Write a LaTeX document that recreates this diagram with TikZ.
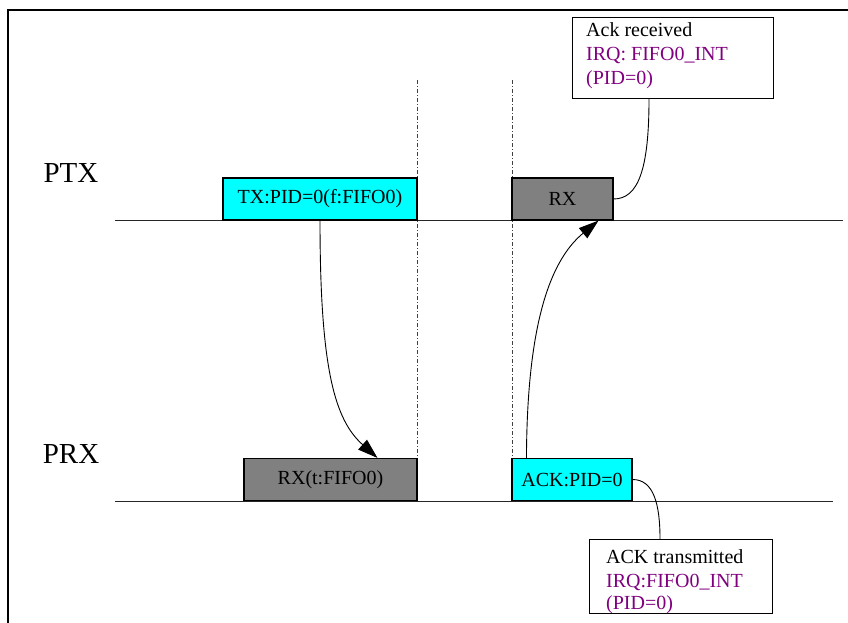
\documentclass[tikz,border=0pt]{standalone}
\usepackage{fontspec}
\setmainfont{Liberation Serif}
\usetikzlibrary{arrows.meta,calc}
\definecolor{boxcyan}{HTML}{00FFFF}
\definecolor{boxgray}{HTML}{808080}
\definecolor{irqpurple}{HTML}{800080}
\begin{document}
\begin{tikzpicture}[x=1pt,y=-1pt,
  txt/.style={font=\fontsize{20}{24}\selectfont},
  lane/.style={font=\fontsize{29}{34}\selectfont},
  msgbox/.style={draw=black,line width=1.1pt,rectangle,inner sep=0pt,txt},
  cyanbox/.style={msgbox,fill=boxcyan},
  graybox/.style={msgbox,fill=boxgray},
  callbox/.style={draw=black,line width=1.1pt,rectangle,fill=white,inner sep=0pt,anchor=north west},
  calltext/.style={txt,anchor=base west,inner sep=0pt},
  timeline/.style={line width=1pt,draw=black!85},
  sepline/.style={line width=0.9pt,draw=black!75,dash pattern=on 4pt off 2pt on 1pt off 2pt},
  flow/.style={line width=0.9pt,-{Triangle[length=20pt,width=13pt]}},
  link/.style={line width=0.9pt}]
\useasboundingbox (0,0) rectangle (848,623);
% frame (top and left visible)
\coordinate (frTR) at (848,10);
\coordinate (frTL) at (8,10);
\coordinate (frBL) at (8,623);
\draw[line width=2pt] (frTR) -- (frTL) -- (frBL);
% lanes
\node[lane] (ptx) at (71,173) {PTX};
\node[lane] (prx) at (71,454) {PRX};
\coordinate (ptxL) at (115,220);
\coordinate (ptxR) at (843,220);
\coordinate (prxL) at (115,501);
\coordinate (prxR) at (833,501);
\draw[timeline] (ptxL) -- (ptxR);
\draw[timeline] (prxL) -- (prxR);
% separators
\coordinate (s1t) at (417,80);
\coordinate (s1b) at (417,501);
\coordinate (s2t) at (512,80);
\coordinate (s2b) at (512,501);
\draw[sepline] (s1t) -- (s1b);
\draw[sepline] (s2t) -- (s2b);
% boxes
\node[cyanbox,minimum width=194pt,minimum height=42pt] (tx) at (320,199) {TX:PID=0(f:FIFO0)};
\node[graybox,minimum width=101pt,minimum height=42pt] (rx) at (562.5,199) {RX};
\node[graybox,minimum width=173pt,minimum height=42pt] (rxt) at (330.5,479.5) {RX(t:FIFO0)};
\node[cyanbox,minimum width=120pt,minimum height=42pt] (ack) at (572,479.5) {ACK:PID=0};
% callouts
\node[callbox,minimum width=201pt,minimum height=81pt] (c1) at (572,17) {};
\node[calltext] (c1a) at (586,37) {Ack received};
\node[calltext,text=irqpurple] (c1b) at (586,61) {IRQ: FIFO0\_INT};
\node[calltext,text=irqpurple] (c1c) at (586,85) {(PID=0)};
\node[callbox,minimum width=183pt,minimum height=74pt] (c2) at (589,539) {};
\node[calltext] (c2a) at (606,563) {ACK transmitted};
\node[calltext,text=irqpurple] (c2b) at (606,587) {IRQ:FIFO0\_INT};
\node[calltext,text=irqpurple] (c2c) at (606,609) {(PID=0)};
% arrows
\draw[flow] (tx.south) .. controls (320,370) and (335,420) .. ([xshift=47pt]rxt.north);
\draw[flow] ([xshift=15pt]ack.north west) .. controls (527,330) and (548,262) .. ([xshift=-15pt]rx.south east);
% callout links
\draw[link] ([xshift=77pt]c1.south west) .. controls (649,170) and (638,199) .. (rx.east);
\draw[link] (ack.east) .. controls (654,479.5) and (660,505) .. ([xshift=71pt]c2.north west);
\end{tikzpicture}
\end{document}
